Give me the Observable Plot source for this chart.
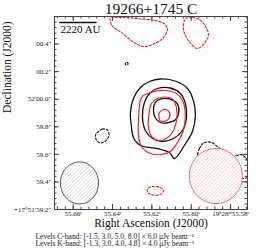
<!DOCTYPE html>
<html><head><meta charset="utf-8">
<script src="https://cdn.jsdelivr.net/npm/d3@7"></script>
<script src="https://cdn.jsdelivr.net/npm/@observablehq/plot@0.6"></script>
<style>html,body{margin:0;padding:0;background:#fff} svg{display:block}</style>
</head><body><div id="chart"></div>
<script>
// ---- text ----
const title = "19266+1745 C";
const xTitle = "Right Ascension (J2000)";
const yTitle = "Declination (J2000)";
const levelNotes = [
  "Levels C-band: [-1.5, 3.0, 5.0, 8.0] × 6.0 μJy beam⁻¹",
  "Levels K-band: [-1.3, 3.0, 4.0, 4.8] × 4.0 μJy beam⁻¹"
];
// ---- axes (RA in seconds of 19h28m, Dec in arcsec of +17°51') ----
const raDomain = [55.6695, 55.5714];
const decDomain = [59.2, 60.6];
const raMajor = [55.66, 55.64, 55.62, 55.60, 55.58];
const raLabels = ["55.66ˢ", "55.64ˢ", "55.62ˢ", "55.60ˢ", "19ʰ28ᵐ55.58ˢ"];
const decMajor = [59.2, 59.4, 59.6, 59.8, 60.0, 60.2, 60.4];
const decLabels = ["+17°51′59.2″", "59.4″", "59.6″", "59.8″", "52′00.0″", "00.2″", "00.4″"];
const raMinor = d3.range(55.668, 55.571, -0.004);
const decMinor = d3.range(59.24, 60.6, 0.04);
const decCenterDeg = 17.864;
// ---- scale bar ----
const scaleBarLabel = "2220 AU";
const scaleBarArcsec = 0.27;
const scaleBarStart = [55.6668, 60.5565];
// ---- C-band contours (black) ----
const cPos3 = [[55.6157,60.1466],[55.6075,60.1285],[55.6019,60.0777],[55.5989,59.9907],[55.5979,59.8819],[55.5994,59.7658],[55.6035,59.6643],[55.6085,59.5699],[55.6111,59.6135],[55.6172,59.6425],[55.6258,59.6643],[55.6294,59.7223],[55.6304,59.8021],[55.6309,59.9036],[55.6294,60.0052],[55.6258,60.0850],[55.6212,60.1285]];
const cPos5 = [[55.6172,60.0777],[55.6106,60.0813],[55.6055,60.0414],[55.6030,59.9689],[55.6024,59.8674],[55.6045,59.7731],[55.6090,59.7150],[55.6146,59.6933],[55.6197,59.7150],[55.6233,59.7731],[55.6248,59.8746],[55.6238,59.9762],[55.6212,60.0414]];
const cPos8 = [[55.6182,59.9762],[55.6154,60.0016],[55.6111,60.0016],[55.6070,59.9653],[55.6063,59.9073],[55.6078,59.8529],[55.6113,59.8311],[55.6157,59.8311],[55.6182,59.8637],[55.6192,59.9182]];
const cNegA = [[55.6334,60.2663],[55.6324,60.2663],[55.6322,60.2518],[55.6332,60.2482]];
const cNegB = [[55.6477,59.7586],[55.6451,59.7839],[55.6426,59.7767],[55.6418,59.7404],[55.6433,59.7005],[55.6461,59.6824],[55.6482,59.7041],[55.6487,59.7368]];
const cNegC = [[55.5969,59.5736],[55.5958,59.6425],[55.5933,59.6860],[55.5897,59.6860],[55.5862,59.6497],[55.5821,59.6062],[55.5786,59.5845],[55.5750,59.5990],[55.5725,59.5772],[55.5704,59.5119],[55.5709,59.4394],[55.5735,59.4249],[55.5776,59.4539],[55.5842,59.4974],[55.5913,59.5192],[55.5953,59.5337]];
// ---- K-band contours (red) ----
const kPos3 = [[55.6253,60.0124],[55.6207,60.0487],[55.6136,60.0632],[55.6075,60.0414],[55.6040,59.9762],[55.6030,59.8746],[55.6040,59.7731],[55.6070,59.6860],[55.6106,59.6207],[55.6151,59.5990],[55.6207,59.6062],[55.6253,59.6570],[55.6268,59.7368],[55.6268,59.8456],[55.6263,59.9472]];
const kPos4 = [[55.6202,59.9689],[55.6172,60.0052],[55.6136,60.0161],[55.6096,60.0016],[55.6075,59.9399],[55.6075,59.8456],[55.6096,59.7586],[55.6131,59.7114],[55.6167,59.7005],[55.6200,59.7259],[55.6217,59.7948],[55.6215,59.8891]];
const kPos48 = [[55.6162,59.9036],[55.6136,59.9254],[55.6113,59.9109],[55.6111,59.8674],[55.6131,59.8420],[55.6159,59.8456],[55.6164,59.8746]];
const kNegA = [[55.6411,60.5927],[55.6403,60.5347],[55.6355,60.4839],[55.6294,60.4150],[55.6243,60.3824],[55.6192,60.4005],[55.6141,60.4477],[55.6121,60.5093],[55.6139,60.5492],[55.6197,60.5746],[55.6258,60.5819],[55.6319,60.5913],[55.6370,60.5927]];
const kNegB = [[55.6030,60.5819],[55.5994,60.5927],[55.5953,60.5710],[55.5920,60.5093],[55.5913,60.4586],[55.5936,60.4005],[55.5969,60.3679],[55.6002,60.4041],[55.6027,60.4549],[55.6040,60.5130]];
const kNegC = [[55.6223,59.3487],[55.6197,59.3668],[55.6164,59.3632],[55.6141,59.3378],[55.6157,59.3088],[55.6192,59.3052],[55.6220,59.3233]];
// ---- beams (arcsec) ----
const beamC = {ra: 55.6568, dec: 59.3927, bmaj: 0.305, bmin: 0.276, pa: 0};
const beamK = {ra: 55.5875, dec: 59.4430, bmaj: 0.400, bmin: 0.385, pa: 0};

// ---- build tables ----
const toRows = (groups) => groups.flatMap(([id, pts]) => pts.map(([ra, dec]) => ({id, ra, dec})));
const cSolid = toRows([["c3", cPos3], ["c5", cPos5], ["c8", cPos8]]);
const cDash = toRows([["cA", cNegA], ["cB", cNegB], ["cC", cNegC]]);
const kSolid = toRows([["k3", kPos3], ["k4", kPos4], ["k48", kPos48]]);
const kDash = toRows([["kA", kNegA], ["kB", kNegB], ["kC", kNegC]]);
const raPerArcsec = 1 / (15 * Math.cos(decCenterDeg * Math.PI / 180));
function beamRows(b) {
  const rows = [];
  const pa = b.pa * Math.PI / 180;
  for (let i = 0; i < 72; i++) {
    const t = i / 72 * 2 * Math.PI;
    const n0 = b.bmaj / 2 * Math.cos(t), e0 = b.bmin / 2 * Math.sin(t);
    const north = n0 * Math.cos(pa) - e0 * Math.sin(pa);
    const east = n0 * Math.sin(pa) + e0 * Math.cos(pa);
    rows.push({ra: b.ra + east * raPerArcsec, dec: b.dec + north});
  }
  return rows;
}
const scaleBar = [{x1: scaleBarStart[0], x2: scaleBarStart[0] - scaleBarArcsec * raPerArcsec, y: scaleBarStart[1]}];

const frameColor = "#444";
const black = "#111", red = "#ff1a1a";
const serif = "'Liberation Serif', 'DejaVu Serif', serif";
const M = "middle";

const svg = Plot.plot({
  width: 264, height: 252,
  marginLeft: 54, marginRight: 17, marginTop: 16, marginBottom: 43,
  style: {fontFamily: serif, background: "white", color: "#1a1a1a"},
  x: {domain: raDomain, axis: null},
  y: {domain: decDomain, axis: null},
  marks: [
    // contours
    Plot.line(cSolid, {x: "ra", y: "dec", z: "id", stroke: black, strokeWidth: 1.3, curve: "catmull-rom-closed", clip: true}),
    Plot.line(kSolid, {x: "ra", y: "dec", z: "id", stroke: red, strokeWidth: 1.2, curve: "catmull-rom-closed", clip: true}),
    Plot.line(cDash, {x: "ra", y: "dec", z: "id", stroke: black, strokeWidth: 1.1, strokeDasharray: "2.2,1.8", curve: "catmull-rom-closed", clip: true}),
    Plot.line(kDash, {x: "ra", y: "dec", z: "id", stroke: red, strokeWidth: 1.1, strokeDasharray: "2.2,1.8", curve: "catmull-rom-closed", clip: true}),
    // beams
    Plot.line(beamRows(beamC), {x: "ra", y: "dec", fill: "url(#hatchC)", stroke: "#555", strokeWidth: 1, curve: "linear-closed", clip: true}),
    Plot.line(beamRows(beamK), {x: "ra", y: "dec", fill: "url(#hatchK)", stroke: "#ff6b6b", strokeWidth: 1, curve: "linear-closed", clip: true}),
    // scale bar
    Plot.ruleY(scaleBar, {y: "y", x1: "x1", x2: "x2", stroke: "#111", strokeWidth: 1.4}),
    Plot.text([scaleBarLabel], {frameAnchor: "top-left", lineAnchor: M, dx: 6, dy: 12.5, textAnchor: "start", fontSize: 11, fill: "#111"}),
    // frame and ticks
    Plot.frame({stroke: frameColor, strokeWidth: 1}),
    Plot.tickX(raMajor, {x: d => d, insetTop: 188, stroke: frameColor}),
    Plot.tickX(raMajor, {x: d => d, insetBottom: 188, stroke: frameColor}),
    Plot.tickX(raMinor, {x: d => d, insetTop: 190.5, stroke: frameColor}),
    Plot.tickX(raMinor, {x: d => d, insetBottom: 190.5, stroke: frameColor}),
    Plot.tickY(decMajor, {y: d => d, insetRight: 188, stroke: frameColor}),
    Plot.tickY(decMajor, {y: d => d, insetLeft: 188, stroke: frameColor}),
    Plot.tickY(decMinor, {y: d => d, insetRight: 190.5, stroke: frameColor}),
    Plot.tickY(decMinor, {y: d => d, insetLeft: 190.5, stroke: frameColor}),
    // tick labels
    Plot.text(raMajor, {x: d => d, text: (d, i) => raLabels[i], frameAnchor: "bottom", lineAnchor: M, dy: 4.6, fontSize: 7, fill: "#222"}),
    Plot.text(decMajor, {y: d => d, text: (d, i) => decLabels[i], frameAnchor: "left", lineAnchor: M, dx: -3, textAnchor: "end", fontSize: 7, fill: "#222"}),
    // titles
    Plot.text([title], {frameAnchor: "top", lineAnchor: M, dy: -7.7, fontSize: 15.5, fill: "#111"}),
    Plot.text([xTitle], {frameAnchor: "bottom", lineAnchor: M, dy: 14.3, fontSize: 11.5, fill: "#111"}),
    Plot.text([yTitle], {frameAnchor: "left", lineAnchor: M, dx: -47, rotate: -90, fontSize: 11.5, fill: "#111"}),
    Plot.text([levelNotes[0]], {frameAnchor: "bottom-left", lineAnchor: M, dx: -19, dy: 26.8, textAnchor: "start", fontSize: 7.5, fill: "#222"}),
    Plot.text([levelNotes[1]], {frameAnchor: "bottom-left", lineAnchor: M, dx: -19, dy: 34.4, textAnchor: "start", fontSize: 7.5, fill: "#222"})
  ]
});

// hatch patterns for beams
const NS = "http://www.w3.org/2000/svg";
const defs = document.createElementNS(NS, "defs");
function makeHatch(id, color) {
  const p = document.createElementNS(NS, "pattern");
  p.setAttribute("id", id);
  p.setAttribute("patternUnits", "userSpaceOnUse");
  p.setAttribute("width", "2.6");
  p.setAttribute("height", "2.6");
  p.setAttribute("patternTransform", "rotate(45)");
  const r = document.createElementNS(NS, "rect");
  r.setAttribute("width", "2.6"); r.setAttribute("height", "2.6"); r.setAttribute("fill", "white");
  const l = document.createElementNS(NS, "line");
  l.setAttribute("x1", "0"); l.setAttribute("y1", "0"); l.setAttribute("x2", "0"); l.setAttribute("y2", "2.6");
  l.setAttribute("stroke", color); l.setAttribute("stroke-width", "0.7");
  p.appendChild(r); p.appendChild(l);
  defs.appendChild(p);
}
makeHatch("hatchC", "#b0b0b0");
makeHatch("hatchK", "#ff9c9c");
svg.insertBefore(defs, svg.firstChild);
document.getElementById("chart").appendChild(svg);
</script>
</body></html>
